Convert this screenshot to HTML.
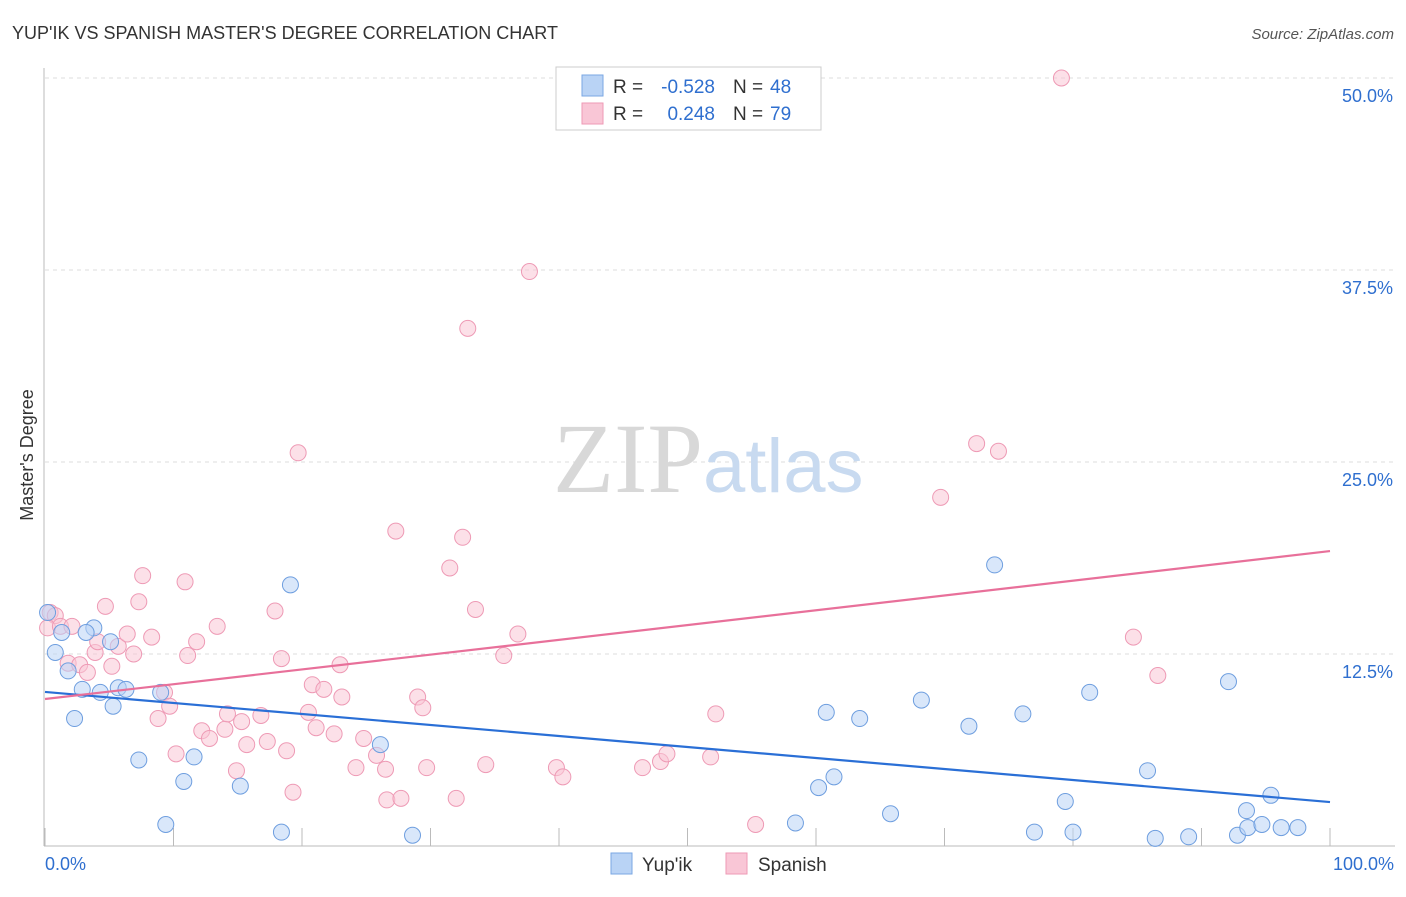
<!DOCTYPE html>
<html><head><meta charset="utf-8"><style>
body{margin:0;background:#fff;font-family:"Liberation Sans",sans-serif}
svg text{font-family:"Liberation Sans",sans-serif}
</style></head><body>
<svg id="chart" width="1406" height="892" xmlns="http://www.w3.org/2000/svg">
<text x="12" y="39" font-size="18" fill="#333">YUP'IK VS SPANISH MASTER'S DEGREE CORRELATION CHART</text>
<text x="1394" y="39" font-size="15" fill="#555" font-style="italic" text-anchor="end">Source: ZipAtlas.com</text>
<text x="33" y="455" font-size="18" fill="#333" text-anchor="middle" transform="rotate(-90 33 455)">Master's Degree</text>
<g id="grid"></g>
<text x="553" y="492" font-size="100" fill="#d8d8d8" font-family="Liberation Serif"><tspan font-family="Liberation Serif">ZIP</tspan><tspan fill="#c8daf0" font-family="Liberation Sans" font-size="76">atlas</tspan></text>
<g id="marks"></g>
<g>
<rect x="556" y="67" width="265" height="63" fill="#fff" stroke="#ccc"/>
<rect x="582" y="75" width="21" height="21" fill="#b9d3f5" stroke="#7aa7e3"/>
<rect x="582" y="103" width="21" height="21" fill="#f9c6d6" stroke="#ee9ab5"/>
<text x="613" y="93" font-size="19" fill="#333">R =</text>
<text x="715" y="93" font-size="19" fill="#2f6fcf" text-anchor="end">-0.528</text>
<text x="733" y="93" font-size="19" fill="#333">N =</text>
<text x="770" y="93" font-size="19" fill="#2f6fcf">48</text>
<text x="613" y="120" font-size="19" fill="#333">R =</text>
<text x="715" y="120" font-size="19" fill="#2f6fcf" text-anchor="end">0.248</text>
<text x="733" y="120" font-size="19" fill="#333">N =</text>
<text x="770" y="120" font-size="19" fill="#2f6fcf">79</text>
</g>
<g>
<rect x="611" y="853" width="21" height="21" fill="#b9d3f5" stroke="#7aa7e3"/>
<text x="642" y="871" font-size="19" fill="#333">Yup'ik</text>
<rect x="726" y="853" width="21" height="21" fill="#f9c6d6" stroke="#ee9ab5"/>
<text x="758" y="871" font-size="19" fill="#333">Spanish</text>
</g>
</svg>
<script>
const yTicks=[12.5,25,37.5,50];
const yTickLabels=["12.5%","25.0%","37.5%","50.0%"];
const xTickLabels=["0.0%","100.0%"];
const blueX=[0.2,1.3,0.8,1.8,3.8,3.2,5.1,2.9,4.3,5.7,6.3,5.3,2.3,9,7.3,10.8,11.6,15.2,19.1,26.1,9.4,18.4,28.6,60.8,63.4,61.4,60.2,58.4,68.2,71.9,65.8,73.9,76.1,81.3,77,79.4,80,85.8,86.4,89,92.1,93.5,95.4,92.8,93.6,94.7,96.2,97.5];
const blueY=[15.2,13.9,12.6,11.4,14.2,13.9,13.3,10.2,10,10.3,10.2,9.1,8.3,10,5.6,4.2,5.8,3.9,17,6.6,1.4,0.9,0.7,8.7,8.3,4.5,3.8,1.5,9.5,7.8,2.1,18.3,8.6,10,0.9,2.9,0.9,4.9,0.5,0.6,10.7,2.3,3.3,0.7,1.2,1.4,1.2,1.2];
const pinkX=[0.4,0.8,0.2,1.2,2.1,1.8,2.7,3.3,3.9,4.1,4.7,5.2,5.7,6.4,6.9,7.3,7.6,8.3,8.8,9.3,9.7,10.2,10.9,11.1,11.8,12.2,12.8,13.4,14,14.2,14.9,15.3,15.7,16.8,17.3,17.9,18.4,18.8,19.3,19.7,20.5,20.8,21.1,21.7,22.5,22.96,23.1,24.2,24.8,25.8,26.5,26.6,27.3,27.7,29,29.4,29.7,31.5,32,32.5,32.9,33.5,34.3,35.7,36.8,37.7,39.8,40.3,46.5,47.9,48.4,51.8,52.2,55.3,69.7,72.5,74.2,79.1,84.7,86.6];
const pinkY=[15.2,15,14.2,14.3,14.3,11.9,11.8,11.3,12.6,13.3,15.6,11.7,13,13.8,12.5,15.9,17.6,13.6,8.3,10,9.1,6,17.2,12.4,13.3,7.5,7,14.3,7.6,8.6,4.9,8.1,6.6,8.5,6.8,15.3,12.2,6.2,3.5,25.6,8.7,10.5,7.7,10.2,7.3,11.8,9.7,5.1,7,5.9,5,3,20.5,3.1,9.7,9,5.1,18.1,3.1,20.1,33.7,15.4,5.3,12.4,13.8,37.4,5.1,4.5,5.1,5.5,6,5.8,8.6,1.4,22.7,26.2,25.7,50,13.6,11.1];
const blueTrend=[10.03,2.86];
const pinkTrend=[9.57,19.2];
const NS="http://www.w3.org/2000/svg";
const X=v=>45+v*12.85, Y=v=>846-v*15.36;
const grid=document.getElementById('grid'), marks=document.getElementById('marks');
function mk(p,t,a){const e=document.createElementNS(NS,t);for(const k in a)e.setAttribute(k,a[k]);p.appendChild(e);return e;}
yTicks.forEach((t,i)=>{
 const l=mk(grid,'line',{x1:45,x2:1395,y1:Y(t),y2:Y(t),stroke:'#ddd','stroke-dasharray':'4,4'});
 
 
 const tx=mk(grid,'text',{x:1393,y:Y(t)+24,'font-size':18,fill:'#2f6fcf','text-anchor':'end'});
 tx.textContent=yTickLabels[i];
 
 
});
const ax=mk(grid,'line',{x1:44,x2:44,y1:68,y2:846,stroke:'#bbb'});


const bx=mk(grid,'line',{x1:44,x2:1395,y1:846,y2:846,stroke:'#bbb'});


for(let i=0;i<=10;i++){const t=mk(grid,'line',{x1:X(i*10),x2:X(i*10),y1:828,y2:846,stroke:'#bbb'});
 
 }
[[0,'start',45],[100,'end',1394]].forEach((d,i)=>{const t=mk(grid,'text',{x:d[2],y:870,'font-size':18,fill:'#2f6fcf','text-anchor':d[1]});t.textContent=xTickLabels[i];
 
 });
function pts(xs,ys,fill,stroke,name){xs.forEach((x,i)=>{const c=mk(marks,'circle',{cx:X(x),cy:Y(ys[i]),r:8,fill:fill,'fill-opacity':0.55,stroke:stroke,'stroke-width':1});
 
 });}
pts(pinkX,pinkY,'#f9c6d6','#ee9ab5','spanish-point');
pts(blueX,blueY,'#b9d3f5','#6e9edf','yupik-point');
const bl=mk(marks,'line',{x1:X(0),y1:Y(blueTrend[0]),x2:X(100),y2:Y(blueTrend[1]),stroke:'#2a6fd6','stroke-width':2.2});


const pl=mk(marks,'line',{x1:X(0),y1:Y(pinkTrend[0]),x2:X(100),y2:Y(pinkTrend[1]),stroke:'#e8709a','stroke-width':2.2});


</script>
</body></html>
